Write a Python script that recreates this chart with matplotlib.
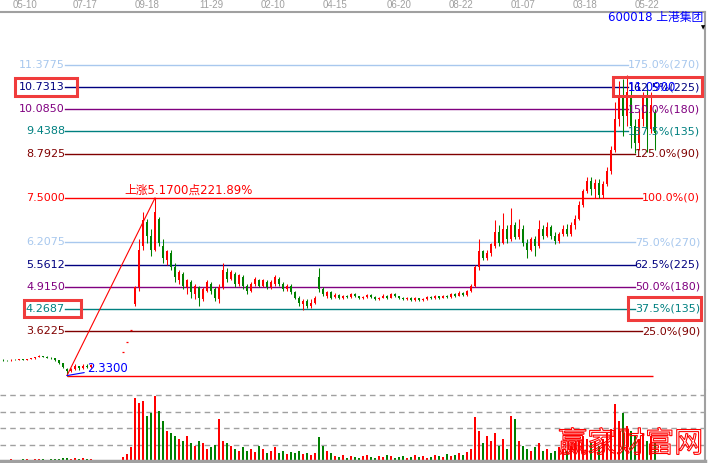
import numpy as np
import matplotlib
matplotlib.use("Agg")
import matplotlib.pyplot as plt
from matplotlib.font_manager import FontProperties
from matplotlib.patches import PathPatch, Rectangle
from matplotlib.textpath import TextPath
from matplotlib.transforms import Affine2D, IdentityTransform, blended_transform_factory


NAN = float("nan")

# daily bars (one bar per slot, NaN = no trading shown)
OPENS = [
	2.79, 2.78, 2.77, 2.79, 2.78, 2.80, 2.79, 2.81, 2.83, 2.87, 2.90, 2.88, 2.85, 2.83, 2.78, 2.70,
	2.52, 2.45, 2.52, 2.60, 2.54, 2.62, 2.58,
	NAN, NAN, NAN, NAN, NAN, NAN, NAN,
	3.02, 3.32, 3.65,
	4.40, 4.90, 6.10, 6.80, 6.40, 6.00, 6.90, 6.10, 5.70, 5.90, 5.50, 5.10, 5.30, 4.90, 5.05, 4.70,
	4.90, 4.55, 4.80, 5.00, 4.85, 4.55, 4.90, 5.35, 5.15, 5.30, 5.00, 5.20, 4.95, 4.80, 5.00, 5.10,
	4.95, 5.05, 4.90, 5.00, 5.15, 5.00, 4.85, 4.95, 4.75, 4.60, 4.40, 4.50, 4.35, 4.45, 5.20, 4.85,
	4.65, 4.75, 4.62, 4.68, 4.60, 4.66, 4.62, 4.70, 4.64, 4.58, 4.63, 4.68, 4.62, 4.56, 4.60, 4.66,
	4.60, 4.70, 4.64, 4.58, 4.55, 4.60, 4.54, 4.58, 4.52, 4.57, 4.62, 4.58, 4.64, 4.60, 4.66, 4.62,
	4.70, 4.66, 4.74, 4.68, 4.78, 4.95, 5.50, 5.95, 5.75, 5.90, 6.10, 6.50, 6.20, 6.60, 6.30, 6.70,
	6.35, 6.60, 6.20, 6.00, 6.30, 6.10, 6.60, 6.40, 6.65, 6.40, 6.25, 6.45, 6.60, 6.45, 6.70, 6.90,
	7.30, 7.70, 8.00, 7.75, 7.95, 7.60, 7.90, 8.30, 8.90, 9.80, 10.40, 9.90, 10.50, 9.60, 9.10, 9.80,
	10.40, 9.50, 10.00,
]
CLOSES = [
	2.78, 2.77, 2.79, 2.78, 2.80, 2.79, 2.81, 2.83, 2.87, 2.90, 2.88, 2.85, 2.83, 2.78, 2.70, 2.58,
	2.45, 2.52, 2.60, 2.54, 2.62, 2.58, 2.63,
	NAN, NAN, NAN, NAN, NAN, NAN, NAN,
	3.02, 3.32, 3.65,
	4.90, 6.00, 6.85, 6.40, 6.00, 7.10, 6.20, 5.75, 5.95, 5.50, 5.20, 5.35, 4.95, 5.10, 4.75, 4.95,
	4.60, 4.85, 5.05, 4.80, 4.60, 4.90, 5.40, 5.15, 5.35, 5.00, 5.25, 4.95, 4.80, 5.00, 5.15, 4.95,
	5.10, 4.90, 5.05, 5.20, 5.00, 4.85, 4.95, 4.75, 4.60, 4.45, 4.50, 4.35, 4.45, 4.60, 4.85, 4.70,
	4.75, 4.60, 4.68, 4.60, 4.66, 4.62, 4.70, 4.64, 4.58, 4.63, 4.68, 4.62, 4.56, 4.60, 4.66, 4.60,
	4.70, 4.64, 4.58, 4.55, 4.60, 4.54, 4.58, 4.52, 4.57, 4.62, 4.58, 4.64, 4.60, 4.66, 4.62, 4.70,
	4.66, 4.74, 4.68, 4.78, 4.95, 5.50, 5.95, 5.75, 5.90, 6.15, 6.50, 6.20, 6.60, 6.30, 6.70, 6.35,
	6.60, 6.20, 6.00, 6.30, 6.10, 6.60, 6.40, 6.65, 6.40, 6.25, 6.45, 6.60, 6.45, 6.70, 6.90, 7.30,
	7.70, 8.00, 7.75, 7.95, 7.60, 7.90, 8.30, 8.90, 9.80, 10.40, 9.90, 10.60, 9.60, 9.10, 9.80, 10.40,
	9.50, 10.20, 9.40,
]
HIGHS = [
	2.80, 2.79, 2.80, 2.80, 2.81, 2.82, 2.82, 2.85, 2.88, 2.92, 2.91, 2.89, 2.86, 2.84, 2.79, 2.71,
	2.55, 2.55, 2.66, 2.62, 2.68, 2.66, 2.66,
	NAN, NAN, NAN, NAN, NAN, NAN, NAN,
	3.02, 3.32, 3.65,
	4.95, 6.30, 7.10, 6.90, 6.60, 7.50, 6.95, 6.30, 6.00, 6.00, 5.60, 5.40, 5.35, 5.15, 5.10, 5.00,
	4.95, 4.90, 5.10, 5.05, 4.90, 5.00, 5.60, 5.45, 5.40, 5.35, 5.30, 5.25, 5.00, 5.05, 5.20, 5.15,
	5.15, 5.10, 5.10, 5.25, 5.20, 5.05, 5.00, 5.00, 4.80, 4.65, 4.55, 4.55, 4.55, 4.65, 5.45, 4.90,
	4.80, 4.80, 4.72, 4.70, 4.69, 4.68, 4.74, 4.72, 4.66, 4.66, 4.71, 4.70, 4.64, 4.63, 4.70, 4.68,
	4.74, 4.72, 4.66, 4.61, 4.63, 4.62, 4.61, 4.60, 4.60, 4.65, 4.64, 4.67, 4.66, 4.69, 4.68, 4.73,
	4.72, 4.78, 4.76, 4.82, 5.00, 5.55, 6.30, 6.00, 6.00, 6.20, 6.85, 6.70, 7.05, 6.70, 7.20, 6.80,
	6.90, 6.70, 6.30, 6.35, 6.40, 6.85, 6.70, 6.80, 6.70, 6.50, 6.50, 6.70, 6.75, 6.80, 7.00, 7.40,
	7.75, 8.10, 8.10, 8.05, 8.05, 8.00, 8.40, 9.00, 10.30, 10.90, 10.95, 11.09, 10.70, 9.80, 10.10, 10.60,
	10.85, 10.60, 10.10,
]
LOWS = [
	2.76, 2.75, 2.76, 2.77, 2.77, 2.78, 2.78, 2.80, 2.82, 2.86, 2.86, 2.84, 2.81, 2.76, 2.68, 2.55,
	2.33, 2.43, 2.50, 2.50, 2.53, 2.55, 2.56,
	NAN, NAN, NAN, NAN, NAN, NAN, NAN,
	3.02, 3.32, 3.65,
	4.35, 4.80, 6.00, 6.20, 5.80, 5.95, 6.10, 5.60, 5.55, 5.40, 5.05, 5.00, 4.85, 4.70, 4.60, 4.55,
	4.35, 4.50, 4.75, 4.70, 4.50, 4.45, 4.85, 5.05, 5.10, 4.90, 4.95, 4.85, 4.70, 4.75, 4.95, 4.90,
	4.90, 4.85, 4.85, 4.95, 4.95, 4.80, 4.80, 4.70, 4.55, 4.35, 4.25, 4.30, 4.30, 4.40, 4.75, 4.65,
	4.60, 4.55, 4.58, 4.57, 4.57, 4.58, 4.60, 4.61, 4.55, 4.55, 4.60, 4.59, 4.53, 4.53, 4.58, 4.57,
	4.58, 4.61, 4.55, 4.52, 4.52, 4.51, 4.51, 4.49, 4.49, 4.54, 4.55, 4.56, 4.57, 4.58, 4.59, 4.60,
	4.63, 4.64, 4.65, 4.66, 4.75, 4.90, 5.40, 5.70, 5.70, 5.80, 6.05, 6.10, 6.15, 6.20, 6.25, 6.30,
	6.30, 6.10, 5.75, 5.95, 5.80, 6.05, 6.30, 6.35, 6.30, 6.15, 6.20, 6.40, 6.40, 6.40, 6.60, 6.85,
	7.25, 7.65, 7.60, 7.50, 7.50, 7.50, 7.85, 8.20, 8.85, 9.60, 9.30, 9.60, 8.95, 8.80, 8.90, 9.60,
	8.85, 9.40, 8.90,
]
VOLUMES = [
	1.5, 1.2, 1.8, 1.5, 1.3, 1.6, 2.0, 1.5, 2.2, 2.5, 1.8, 1.5, 1.6, 2.0, 2.5, 3.0,
	3.5, 2.5, 3.0, 2.0, 3.5, 2.5, 2.0,
	NAN, NAN, NAN, NAN, NAN, NAN, NAN,
	4, 7, 14,
	63, 58, 60, 45, 48, 65, 50, 40, 30, 28, 25, 22, 20, 25, 18, 15,
	20, 18, 12, 14, 16, 42, 20, 18, 15, 12, 10, 14, 10, 12, 9, 15,
	12, 8, 10, 14, 8, 10, 7, 9, 8, 10, 7, 8, 6, 8, 24, 15,
	10, 8, 5, 4, 6, 3, 5, 4, 3, 5, 6, 4, 3, 5, 4, 6,
	5, 3, 4, 5, 3, 4, 6, 4, 5, 3, 4, 6, 5, 4, 7, 5,
	6, 8, 6, 9, 12, 44, 30, 18, 25, 20, 28, 15, 22, 12, 45, 42,
	20, 15, 12, 10, 14, 18, 10, 12, 8, 10, 14, 12, 10, 15, 18, 20,
	25, 22, 18, 20, 15, 22, 28, 32, 57, 40, 48, 35, 30, 25, 22, 28,
	20, 25, 18,
]

DATE_LABELS = ["05-10", "07-17", "09-18", "11-29", "02-10", "04-15", "06-20", "08-22", "01-07", "03-18", "05-22"]
DATE_POSITIONS = [5.5, 20.5, 36, 52, 67.5, 83, 99, 114.5, 130, 145.5, 161]

SWING_LOW_INDEX = 16
SWING_HIGH_INDEX = 38

LEVEL_PCTS = [175.0, 162.5, 150.0, 137.5, 125.0, 100.0, 75.0, 62.5, 50.0, 37.5, 25.0]
LEVEL_DEGREES = [270, 225, 180, 135, 90, 0, 270, 225, 180, 135, 90]
LEVEL_LABELS = ["11.3775", "10.7313", "10.0850", "9.4388", "8.7925", "7.5000",
	"6.2075", "5.5612", "4.9150", "4.2687", "3.6225"]
HIGHLIGHTED_LEFT = {"10.7313": (4, 12, 4, 4), "4.2687": (2, 16, 4, 3)}
HIGHLIGHTED_RIGHT = {162.5: (15, 2, 5, 4), 37.5: (7, 1, 7, 6)}

WATERMARK = "赢家财富网"

LIGHT_BLUE = "#a8c8ee"
NAVY = "#000080"
PURPLE = "#800080"
TEAL = "#008080"
MAROON = "#800000"
RED = "#ff0000"
GREEN = "#008000"
GRAY = "#a0a0a0"
BOX_RED = "#f03c3c"
LEVEL_COLORS = [LIGHT_BLUE, NAVY, PURPLE, TEAL, MAROON, RED, LIGHT_BLUE, NAVY, PURPLE, TEAL, MAROON]

FIG_W, FIG_H = 711, 463


def add_box(fig, text_artist, renderer, pads):
	left, right, top, bottom = pads
	bb = text_artist.get_window_extent(renderer)
	fig.patches.append(Rectangle(
		((bb.x0 - left) / FIG_W, (bb.y0 - bottom) / FIG_H),
		(bb.width + left + right) / FIG_W,
		(bb.height + top + bottom) / FIG_H,
		transform=fig.transFigure, fill=False, edgecolor=BOX_RED, linewidth=2.2, zorder=10,
	))


def add_outlined_watermark(fig, text):
	path = TextPath((0, 0), text, size=29, prop=FontProperties(family="Noto Sans CJK SC"))
	extent = path.get_extents()
	x0 = 630 - extent.width / 2 - extent.x0
	y0 = (FIG_H - 441) - extent.height / 2 - extent.y0
	fig.patches.append(PathPatch(
		path, transform=Affine2D().translate(x0, y0) + IdentityTransform(),
		facecolor="none", edgecolor=RED, linewidth=0.8, zorder=20,
	))


def main() -> None:
	plt.rcParams["font.family"] = ["DejaVu Sans", "Noto Sans CJK SC"]

	opens = np.array(OPENS)
	closes = np.array(CLOSES)
	highs = np.array(HIGHS)
	lows = np.array(LOWS)
	volumes = np.array(VOLUMES)
	n = len(closes)
	assert len(opens) == len(highs) == len(lows) == len(volumes) == n
	idx = np.arange(n)

	fig = plt.figure(figsize=(FIG_W / 100, FIG_H / 100), dpi=100)
	ax = fig.add_axes([0, 73 / FIG_H, 705 / FIG_W, 378 / FIG_H])
	vax = fig.add_axes([0, 2 / FIG_H, 705 / FIG_W, 71 / FIG_H])

	ax.set_xlim(-0.75, 175.5)
	ax.set_ylim(1.91, 12.915)
	vax.set_xlim(-0.75, 175.5)
	vax.set_ylim(0, 71)

	for axis in (ax, vax):
		for side in ("left", "bottom", "top", "right"):
			axis.spines[side].set_visible(False)
		axis.spines["right"].set_visible(True)
		axis.spines["right"].set_color(GRAY)
		axis.spines["right"].set_linewidth(1.5)
		axis.set_yticks([])
	ax.spines["top"].set_visible(True)
	ax.spines["top"].set_color(GRAY)
	ax.spines["top"].set_linewidth(1.5)
	vax.spines["bottom"].set_visible(True)
	vax.spines["bottom"].set_color(GRAY)
	vax.spines["bottom"].set_linewidth(2.5)

	ax.xaxis.tick_top()
	ax.set_xticks(DATE_POSITIONS, DATE_LABELS)
	ax.tick_params(axis="x", length=0, pad=1.5, labelsize=7, labelcolor=GRAY)
	for label in ax.get_xticklabels():
		label.set_fontfamily("Liberation Sans")
	vax.set_xticks([])

	# candles
	valid = ~np.isnan(closes)
	flat = valid & (highs - lows < 1e-9)
	colors = np.where(closes >= opens, RED, GREEN)
	wick = valid & ~flat
	ax.vlines(idx[wick], lows[wick], highs[wick], colors=colors[wick], linewidth=0.75, zorder=3)
	ax.bar(idx[wick], closes[wick] - opens[wick], bottom=opens[wick], width=0.55,
		color=colors[wick], linewidth=0, zorder=3)
	ax.hlines(closes[flat], idx[flat] - 0.35, idx[flat] + 0.35, colors=RED, linewidth=0.9, zorder=3)

	# volume
	vax.set_yticks([16.5, 33, 49.5, 66])
	vax.tick_params(axis="y", length=0, labelleft=False)
	vax.grid(axis="y", color=GRAY, linestyle=(0, (4, 3)), linewidth=1)
	vax.set_axisbelow(True)
	vax.bar(idx[valid], volumes[valid], width=0.55, color=colors[valid], linewidth=0, zorder=2)

	# percentage levels from the swing
	swing_low = lows[SWING_LOW_INDEX]
	swing_high = highs[SWING_HIGH_INDEX]
	swing = swing_high - swing_low
	trans = blended_transform_factory(ax.transAxes, ax.transData)
	left_x = 65 / 705
	right_x = 700 / 705
	placed = []
	for pct, deg, name, color in zip(LEVEL_PCTS, LEVEL_DEGREES, LEVEL_LABELS, LEVEL_COLORS):
		value = swing_low + pct / 100 * swing
		left_text = ax.text(left_x, value, name, transform=trans, ha="right", va="center",
			color=color, fontsize=8, zorder=5)
		right_text = ax.text(right_x, value, f"{pct:.1f}%({deg})", transform=trans, ha="right",
			va="center", color=color, fontsize=8, zorder=5)
		placed.append((pct, value, color, left_text, right_text))

	renderer = fig.canvas.get_renderer()
	for pct, value, color, left_text, right_text in placed:
		bb = right_text.get_window_extent(renderer)
		x_end = ax.transAxes.inverted().transform((bb.x0, 0))[0]
		ax.plot([left_x, x_end], [value, value], transform=trans, color=color, linewidth=1, zorder=1)
		if left_text.get_text() in HIGHLIGHTED_LEFT:
			add_box(fig, left_text, renderer, HIGHLIGHTED_LEFT[left_text.get_text()])
		if pct in HIGHLIGHTED_RIGHT:
			add_box(fig, right_text, renderer, HIGHLIGHTED_RIGHT[pct])

	# swing line, base line and notes
	ax.plot([SWING_LOW_INDEX, SWING_HIGH_INDEX], [swing_low, swing_high], color=RED, linewidth=0.8, zorder=4)
	ax.hlines(swing_low, SWING_LOW_INDEX, n - 1.5, colors=RED, linewidth=1, zorder=2)
	ax.annotate(f"上涨{swing:.4f}点{swing / swing_low * 100:.2f}%", xy=(SWING_HIGH_INDEX, swing_high),
		xytext=(-31, 1), textcoords="offset pixels", ha="left", va="bottom", color=RED, fontsize=8.5, zorder=5)
	ax.annotate(f"{swing_low:.4f}", xy=(SWING_LOW_INDEX, swing_low), xytext=(20, 7),
		textcoords="offset pixels", ha="left", va="center", color="#0000ff", fontsize=8.5, zorder=5,
		arrowprops=dict(arrowstyle="-", color="#0000ff", linewidth=0.8, shrinkA=0, shrinkB=0))
	peak_index = int(np.nanargmax(highs))
	ax.annotate(f"{highs[peak_index]:.4f}", xy=(peak_index, highs[peak_index]), xytext=(1, -13),
		textcoords="offset pixels", ha="left", va="center", color="#0000ff", fontsize=8.5, zorder=5)

	fig.text(703 / FIG_W, 1 - 18 / FIG_H, "600018 上港集团", ha="right", va="center",
		color="#0000ff", fontsize=8.5)
	fig.text(703 / FIG_W, 1 - 28 / FIG_H, "▼", ha="center", va="center", color="black", fontsize=4)

	add_outlined_watermark(fig, WATERMARK)

	fig.savefig("out.png", dpi=100, facecolor="white")


if __name__ == "__main__":
	main()
